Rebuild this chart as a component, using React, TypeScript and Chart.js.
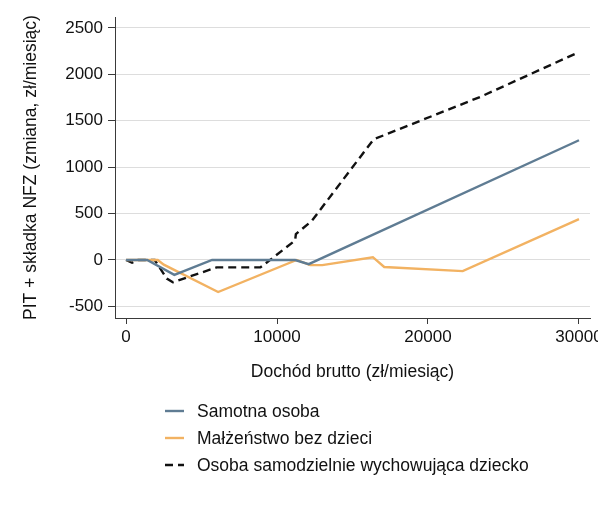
import React, { useEffect, useRef } from "react";
import { Chart, registerables } from "chart.js";

Chart.register(...registerables);

// ---- data ----
const incomeSingle = [0, 1400, 3200, 5700, 11200, 12100, 30000];
const pitSingle = [0, 0, -160, 0, 0, -45, 1290];

const incomeMarried = [0, 2100, 2500, 6100, 11300, 12200, 13000, 16350, 17100, 22300, 30000];
const pitMarried = [0, 0, -50, -345, 0, -55, -55, 30, -75, -120, 440];

const incomeParent = [0, 400, 800, 1900, 2700, 3100, 6000, 8900, 11200, 11250, 12300, 16400, 23500, 30000];
const pitParent = [0, -30, 0, 0, -200, -240, -80, -80, 210, 280, 420, 1300, 1760, 2240];

const seriesLabels = [
  "Samotna osoba",
  "Małżeństwo bez dzieci",
  "Osoba samodzielnie wychowująca dziecko",
];

const xTicks = [0, 10000, 20000, 30000];
const yTicks = [-500, 0, 500, 1000, 1500, 2000, 2500];

const xTitle = "Dochód brutto (zł/miesiąc)";
const yTitle = "PIT + składka NFZ (zmiana, zł/miesiąc)";

const FONT = "'Liberation Sans', Arial, Helvetica, sans-serif";
const TEXT = "#111111";
const AXIS = "#3a3a3a";

const toPoints = (xs: number[], ys: number[]) => xs.map((x, i) => ({ x, y: ys[i] }));

const stackedLegend = {
  id: "stackedLegend",
  afterDraw(chart: any) {
    const ctx = chart.ctx as CanvasRenderingContext2D;
    ctx.save();
    chart.data.datasets.forEach((ds: any, i: number) => {
      const y = 403 + i * 27;
      ctx.beginPath();
      ctx.strokeStyle = ds.borderColor;
      ctx.lineWidth = ds.borderWidth;
      ctx.setLineDash(ds.borderDash || []);
      ctx.moveTo(157, y);
      ctx.lineTo(176, y);
      ctx.stroke();
      ctx.setLineDash([]);
      ctx.fillStyle = TEXT;
      ctx.font = `17.5px ${FONT}`;
      ctx.textBaseline = "middle";
      ctx.textAlign = "left";
      ctx.fillText(ds.label, 189, y + 1);
    });
    ctx.restore();
  },
};

export default function App() {
  const ref = useRef<HTMLCanvasElement | null>(null);

  useEffect(() => {
    if (!ref.current) return;
    const chart = new Chart(ref.current, {
      type: "line",
      data: {
        datasets: [
          {
            label: seriesLabels[0],
            data: toPoints(incomeSingle, pitSingle),
            borderColor: "#5f7c93",
            borderWidth: 2.4,
            pointRadius: 0,
            tension: 0,
            fill: false,
          },
          {
            label: seriesLabels[1],
            data: toPoints(incomeMarried, pitMarried),
            borderColor: "#f2b262",
            borderWidth: 2.4,
            pointRadius: 0,
            tension: 0,
            fill: false,
          },
          {
            label: seriesLabels[2],
            data: toPoints(incomeParent, pitParent),
            borderColor: "#111111",
            borderWidth: 2.4,
            borderDash: [8, 5],
            pointRadius: 0,
            tension: 0,
            fill: false,
          },
        ],
      },
      options: {
        responsive: false,
        animation: false,
        events: [],
        layout: { padding: { left: 0, right: 8, top: 9, bottom: 110 } },
        plugins: {
          legend: { display: false },
          tooltip: { enabled: false },
        },
        scales: {
          x: {
            type: "linear",
            min: -730,
            max: 30730,
            afterBuildTicks: (scale: any) => {
              scale.ticks = xTicks.map((v) => ({ value: v }));
            },
            afterFit: (scale: any) => {
              scale.height = 70;
              scale.paddingLeft = 0;
              scale.paddingRight = 0;
            },
            ticks: {
              autoSkip: false,
              maxRotation: 0,
              padding: 3,
              color: TEXT,
              font: { family: FONT, size: 17 },
              callback: (v: any) => String(v),
            },
            grid: {
              drawOnChartArea: false,
              drawTicks: true,
              tickLength: 6,
              tickColor: AXIS,
              tickWidth: 1,
            },
            border: { display: true, color: AXIS, width: 1 },
            title: {
              display: true,
              text: xTitle,
              color: TEXT,
              font: { family: FONT, size: 17.5 },
              padding: { top: 0, bottom: 5 },
            },
          },
          y: {
            type: "linear",
            min: -625,
            max: 2618,
            afterBuildTicks: (scale: any) => {
              scale.ticks = yTicks.map((v) => ({ value: v }));
            },
            afterFit: (scale: any) => {
              scale.width = 107;
              scale.paddingTop = 0;
              scale.paddingBottom = 0;
            },
            ticks: {
              autoSkip: false,
              padding: 5,
              color: TEXT,
              font: { family: FONT, size: 17 },
              callback: (v: any) => String(v),
            },
            grid: {
              color: "#dddddd",
              lineWidth: 1,
              drawTicks: true,
              tickLength: 7,
              tickColor: AXIS,
              tickWidth: 1,
            },
            border: { display: true, color: AXIS, width: 1 },
            title: {
              display: true,
              text: yTitle,
              color: TEXT,
              font: { family: FONT, size: 17.5 },
              padding: { top: 12.5, bottom: 0 },
            },
          },
        },
      },
      plugins: [stackedLegend],
    } as any);
    return () => chart.destroy();
  }, []);

  return (
    <div style={{ width: 590, height: 490 }}>
      <canvas ref={ref} width={590} height={490} style={{ display: "block" }} />
    </div>
  );
}
